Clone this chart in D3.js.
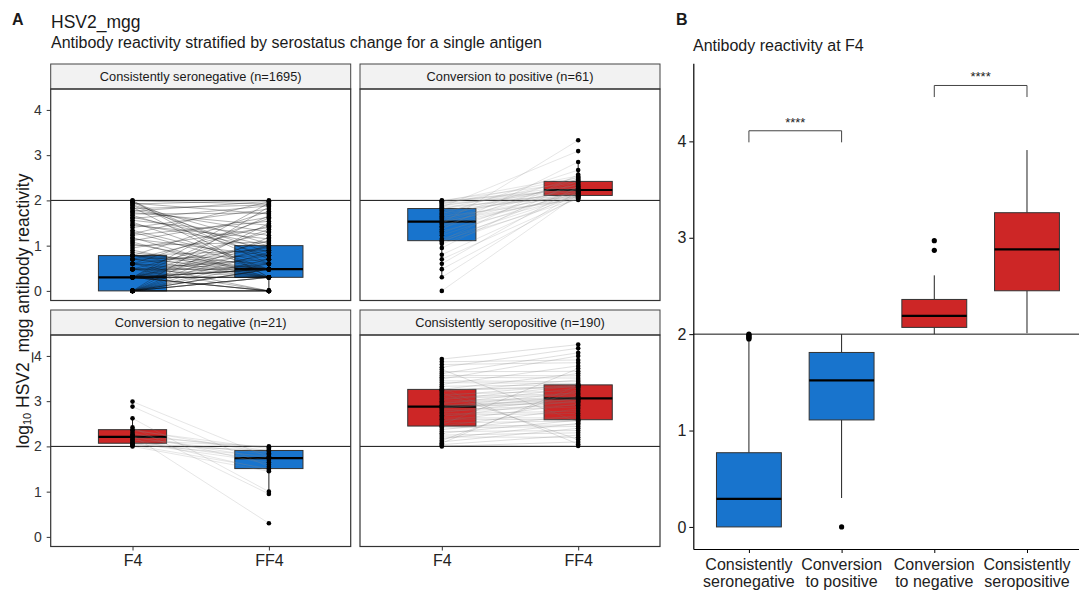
<!DOCTYPE html>
<html><head><meta charset="utf-8">
<script src="https://cdn.jsdelivr.net/npm/d3@7/dist/d3.min.js"></script>
<style>
body{margin:0;background:#fff}
text{font-family:"Liberation Sans", Arial, Helvetica, sans-serif}
</style>
</head><body>
<svg id="c" width="1079" height="594"></svg>
<script>
// ---------------- DATA ----------------
const facetLabels = ["Consistently seronegative (n=1695)", "Conversion to positive (n=61)",
                     "Conversion to negative (n=21)", "Consistently seropositive (n=190)"];
const timepoints = ["F4", "FF4"];
const facetStatus = [["neg","neg"],["neg","pos"],["pos","neg"],["pos","pos"]];
// box stats [lower whisker, q1, median, q3, upper whisker] (log10 scale) for F4 and FF4
const boxStatsA = [
  [[0, 0, 0.30, 0.78, 1.94], [0, 0.30, 0.48, 1.00, 2.00]],
  [[0.30, 1.11, 1.53, 1.82, 2.00], [2.01, 2.11, 2.23, 2.42, 2.85]],
  [[2.00, 2.07, 2.21, 2.37, 2.62], [0.95, 1.51, 1.74, 1.91, 2.00]],
  [[2.00, 2.45, 2.88, 3.26, 3.93], [2.00, 2.59, 3.06, 3.36, 4.25]]
];
// paired individual values (log10), F4 and FF4
const snF4 = [0,0,0,0,0,0,0,0,0,0,0,0,0,0,0,0,0,0,0,0,
  0.30,0.30,0.30,0.30,0.30,0.30,0.30,0.30,0.30,0.30,0.30,0.30,0.30,0.30,0.30,0.30,0.30,0.30,0.30,0.30,0.30,
  0.48,0.48,0.48,0.48,0.48,0.48, 0.60,0.60,0.60,0.60,0.60, 0.70,0.70,0.70,0.70, 0.78,0.78,0.78,0.78,0.78,
  0.85,0.90,1.00,1.08,1.15,1.23,1.30,1.40,1.48,1.56,1.63,1.70,1.76,1.82,1.88,1.92,1.96,1.98,2.00,
  0.95,1.04,1.11,1.18,1.26,1.34,1.45,1.52,1.60,1.67,1.73,1.79,1.85,1.90,1.94,1.99];
const snFF4 = [0,0,0,0,0,0,0.30,0.30,0.30,0.30,0.48,0.48,0.48,0.60,0.70,0.85,1.00,1.18,1.49,1.86,
  0,0,0,0,0.30,0.30,0.30,0.30,0.30,0.48,0.48,0.48,0.48,0.60,0.78,0.90,1.00,1.11,1.36,1.66,1.94,
  0,0.30,0.48,0.48,0.70,1.30, 0,0.30,0.48,0.95,1.60, 0.30,0.48,0.78,1.43, 0.30,0.48,0.60,0.90,1.76,
  0.48,0.30,1.08,0.30,0.78,1.54,0.48,1.81,0.95,1.23,1.00,1.72,1.98,1.90,0.85,2.00,0.60,0.70,0.30,
  1.40,0.48,1.63,0.30,1.97,0.60,1.15,0.48,1.88,0.78,1.45,1.30,0.30,1.04,1.70,1.92];
const cpF4 = [0,0.30,0.48,0.60,0.70,0.80,0.95,1.04,1.08,1.11,1.11,1.15,1.23,1.28,1.32,1.36,1.40,1.43,1.46,1.49,
  1.51,1.53,1.54,1.57,1.60,1.62,1.65,1.68,1.70,1.72,1.75,1.78,1.81,1.82,1.85,1.86,1.88,1.90,1.92,1.94,
  1.95,1.97,1.98,1.99,2.00];
const cpFF4 = [2.13,2.20,2.08,2.31,2.05,2.17,2.44,2.10,2.27,2.03,2.57,2.12,2.22,2.37,2.09,2.85,2.15,2.48,2.11,3.33,
  2.19,2.06,2.30,2.42,2.14,2.52,2.01,2.24,2.67,2.16,2.35,2.10,2.46,2.18,3.09,2.07,2.28,2.21,2.50,2.11,
  2.33,2.23,2.54,2.25,2.40];
const cnF4 = [2.99,2.88,2.62,2.42,2.37,2.35,2.30,2.27,2.24,2.22,2.21,2.19,2.16,2.13,2.10,2.08,2.07,2.05,2.03,2.02,2.00];
const cnFF4 = [1.76,1.55,1.00,0.95,1.85,1.95,1.60,1.91,0.30,1.98,1.74,1.82,1.48,2.00,1.70,1.88,1.65,1.78,1.51,1.92,1.45];
const spF4 = [2.00,2.02,2.04,2.07,2.10,2.13,2.17,2.21,2.25,2.29, 2.33,2.37,2.41,2.44,2.45,2.48,2.52,2.56,2.60,2.63,
  2.66,2.69,2.72,2.75,2.78,2.81,2.84,2.86,2.87,2.88, 2.89,2.91,2.94,2.97,3.00,3.03,3.06,3.09,3.12,3.15,
  3.18,3.21,3.24,3.25,3.26,3.29,3.33,3.37,3.41,3.45, 3.49,3.53,3.57,3.61,3.65,3.70,3.75,3.81,3.87,3.93];
const spFF4 = [2.10,2.01,2.25,3.35,2.40,3.26,2.51,2.20,2.30,2.58, 2.35,2.68,2.44,2.48,2.83,3.72,2.56,2.94,2.59,2.63,
  3.01,2.73,2.78,3.06,2.87,2.91,3.11,2.97,2.99,3.20, 3.03,3.05,3.29,3.07,3.09,3.34,3.14,3.17,3.36,3.23,
  2.15,3.47,3.31,3.33,3.61,2.05,3.36,3.78,3.39,3.43, 4.00,3.51,3.56,4.07,3.66,2.54,4.17,3.85,3.91,4.25];
const pairsA = [[snF4, snFF4], [cpF4, cpFF4], [cnF4, cnFF4], [spF4, spFF4]];

// Panel B
const categoriesB = [["Consistently","seronegative"],["Conversion","to positive"],["Conversion","to negative"],["Consistently","seropositive"]];
const statusB = ["neg","neg","pos","pos"];
const boxStatsB = [[0, 0, 0.29, 0.77, 1.94], [0.30, 1.11, 1.52, 1.81, 2.00], [2.00, 2.07, 2.19, 2.36, 2.61], [2.01, 2.45, 2.88, 3.26, 3.91]];
const outliersB = [[1.95,1.96,1.97,1.98,1.99,2.00], [0], [2.87,2.97], []];
const sigPairs = [[0,1],[2,3]];
const sigY = [4.11, 4.58];
const sigLabels = ["****","****"];
const cutoff = 2;
const yTicks = [0,1,2,3,4];

// ---------------- STYLE ----------------
const colors = {neg: "#1874CD", pos: "#CD2626"};
const lineStyle = [{c:"#111", o:0.4, w:0.8}, {c:"#888", o:0.35, w:0.6}, {c:"#888", o:0.35, w:0.6}, {c:"#777", o:0.4, w:0.6}];
const svg = d3.select("#c");
const ink = "#1a1a1a";
const FF = '"Liberation Sans", Arial, sans-serif';

// titles
svg.append("text").attr("x", 12).attr("y", 25).attr("font-size", 16).attr("font-weight", "bold").attr("fill", ink).text("A");
svg.append("text").attr("x", 51).attr("y", 28).attr("font-size", 17.5).attr("fill", ink).text("HSV2_mgg");
svg.append("text").attr("x", 51).attr("y", 48).attr("font-size", 16).attr("fill", ink).text("Antibody reactivity stratified by serostatus change for a single antigen");
svg.append("text").attr("x", 676).attr("y", 25).attr("font-size", 16).attr("font-weight", "bold").attr("fill", ink).text("B");
svg.append("text").attr("x", 693).attr("y", 51).attr("font-size", 16).attr("fill", ink).text("Antibody reactivity at F4");

// y title
const yt = svg.append("text").attr("transform", "translate(29,311) rotate(-90)").attr("text-anchor", "middle")
  .attr("font-size", 17.5).attr("fill", ink);
yt.append("tspan").text("log");
yt.append("tspan").attr("font-size", 11).attr("dy", 2).text("10");
yt.append("tspan").attr("dy", -2).text(" HSV2_mgg antibody reactivity");

// ---------------- PANEL A ----------------
const colX = [50.7, 360], panelW = 300;
const stripTop = [64, 310], stripH = 25, panelH = 211.5;
facetLabels.forEach((lab, f) => {
  const col = f % 2, row = Math.floor(f / 2);
  const x0 = colX[col], st = stripTop[row], pt = st + stripH, pb = pt + panelH;
  const x = d3.scalePoint().domain(timepoints).range([x0, x0 + panelW]).padding(0.6);
  const y = d3.scaleLinear().domain([-0.2125, 4.4625]).range([pb, pt]);
  const g = svg.append("g");
  // strip
  g.append("rect").attr("x", x0).attr("y", st).attr("width", panelW).attr("height", stripH)
    .attr("fill", "#F2F2F2").attr("stroke", "#444").attr("stroke-width", 1);
  g.append("text").attr("x", x0 + panelW / 2).attr("y", st + stripH / 2 + 4.5).attr("text-anchor", "middle")
    .attr("font-size", 12.8).attr("fill", "#1a1a1a").text(lab);
  // cutoff line
  g.append("line").attr("x1", x0).attr("x2", x0 + panelW).attr("y1", y(cutoff)).attr("y2", y(cutoff))
    .attr("stroke", "#111").attr("stroke-width", 1);
  // boxes
  const hw = 0.25 * x.step();
  timepoints.forEach((tp, t) => {
    const s = boxStatsA[f][t], cx = x(tp);
    g.append("line").attr("x1", cx).attr("x2", cx).attr("y1", y(s[0])).attr("y2", y(s[1])).attr("stroke", "#222").attr("stroke-width", 1);
    g.append("line").attr("x1", cx).attr("x2", cx).attr("y1", y(s[3])).attr("y2", y(s[4])).attr("stroke", "#222").attr("stroke-width", 1);
    g.append("rect").attr("x", cx - hw).attr("y", y(s[3])).attr("width", 2 * hw).attr("height", y(s[1]) - y(s[3]))
      .attr("fill", colors[facetStatus[f][t]]).attr("stroke", "#333").attr("stroke-width", 1);
    g.append("line").attr("x1", cx - hw).attr("x2", cx + hw).attr("y1", y(s[2])).attr("y2", y(s[2]))
      .attr("stroke", "#000").attr("stroke-width", 2.2);
  });
  // paired lines
  const [a, b] = pairsA[f], ls = lineStyle[f];
  g.append("g").selectAll("line").data(a).join("line")
    .attr("x1", x("F4")).attr("x2", x("FF4"))
    .attr("y1", d => y(d)).attr("y2", (d, i) => y(b[i]))
    .attr("stroke", ls.c).attr("stroke-opacity", ls.o).attr("stroke-width", ls.w);
  // points
  [a, b].forEach((arr, t) => {
    g.append("g").selectAll("circle").data(arr).join("circle")
      .attr("cx", x(timepoints[t])).attr("cy", d => y(d)).attr("r", 2.3).attr("fill", "#000");
  });
  // border
  g.append("rect").attr("x", x0).attr("y", pt).attr("width", panelW).attr("height", panelH)
    .attr("fill", "none").attr("stroke", "#333").attr("stroke-width", 1.2);
  // axes
  if (col === 0) {
    const ax = g.append("g").attr("transform", `translate(${x0},0)`)
      .call(d3.axisLeft(y).tickValues(yTicks).tickSize(4).tickPadding(5).tickFormat(d3.format("d")));
    ax.select(".domain").remove();
    ax.selectAll("text").attr("font-size", 14).attr("fill", "#333").attr("font-family", FF);
    ax.selectAll("line").attr("stroke", "#333");
  }
  if (row === 1) {
    const ax = g.append("g").attr("transform", `translate(0,${pb})`)
      .call(d3.axisBottom(x).tickSize(4).tickPadding(4));
    ax.select(".domain").remove();
    ax.selectAll("text").attr("font-size", 16).attr("fill", "#222").attr("font-family", FF);
    ax.selectAll("line").attr("stroke", "#333");
  }
});

// ---------------- PANEL B ----------------
const bx0 = 693.3, bTop = 63.3, bBot = 549;
const xB = d3.scalePoint().domain(d3.range(categoriesB.length)).range([bx0, 1082.6]).padding(0.6);
const yB = d3.scaleLinear().domain([-0.229, 4.81]).range([bBot, bTop]);
const gB = svg.append("g");
gB.append("line").attr("x1", bx0).attr("x2", 1079).attr("y1", yB(cutoff)).attr("y2", yB(cutoff)).attr("stroke", "#111").attr("stroke-width", 1);
const hwB = 0.35 * xB.step();
boxStatsB.forEach((s, i) => {
  const cx = xB(i);
  gB.append("line").attr("x1", cx).attr("x2", cx).attr("y1", yB(s[0])).attr("y2", yB(s[1])).attr("stroke", "#222").attr("stroke-width", 1);
  gB.append("line").attr("x1", cx).attr("x2", cx).attr("y1", yB(s[3])).attr("y2", yB(s[4])).attr("stroke", "#222").attr("stroke-width", 1);
  gB.append("rect").attr("x", cx - hwB).attr("y", yB(s[3])).attr("width", 2 * hwB).attr("height", yB(s[1]) - yB(s[3]))
    .attr("fill", colors[statusB[i]]).attr("stroke", "#333").attr("stroke-width", 1);
  gB.append("line").attr("x1", cx - hwB).attr("x2", cx + hwB).attr("y1", yB(s[2])).attr("y2", yB(s[2])).attr("stroke", "#000").attr("stroke-width", 2.2);
  gB.selectAll(null).data(outliersB[i]).join("circle").attr("cx", cx).attr("cy", d => yB(d)).attr("r", 2.6).attr("fill", "#000");
});
// significance brackets
sigPairs.forEach((p, k) => {
  const xa = xB(p[0]), xb = xB(p[1]), yy = yB(sigY[k]), tip = yB(sigY[k] - 0.12);
  gB.append("path").attr("d", `M${xa},${tip}V${yy}H${xb}V${tip}`).attr("fill", "none").attr("stroke", "#444").attr("stroke-width", 1);
  gB.append("text").attr("x", (xa + xb) / 2).attr("y", yy - 4).attr("text-anchor", "middle").attr("font-size", 13).attr("fill", "#222").text(sigLabels[k]);
});
// axes
const axYB = gB.append("g").attr("transform", `translate(${bx0},0)`)
  .call(d3.axisLeft(yB).tickValues(yTicks).tickSize(4).tickSizeOuter(0).tickPadding(3).tickFormat(d3.format("d")));
axYB.select(".domain").attr("stroke", "#000").attr("stroke-width", 1.2);
axYB.selectAll("text").attr("font-size", 16).attr("fill", "#222").attr("font-family", FF);
const axXB = gB.append("g").attr("transform", `translate(0,${bBot})`)
  .call(d3.axisBottom(xB).tickSize(4).tickSizeOuter(0).tickFormat(() => ""));
axXB.select(".domain").attr("stroke", "#000").attr("stroke-width", 1.2);
categoriesB.forEach((lines, i) => {
  const t = gB.append("text").attr("x", xB(i)).attr("text-anchor", "middle").attr("font-size", 16).attr("fill", "#222");
  t.append("tspan").attr("x", xB(i)).attr("y", 570).text(lines[0]);
  t.append("tspan").attr("x", xB(i)).attr("y", 587).text(lines[1]);
});
</script>
</body></html>
